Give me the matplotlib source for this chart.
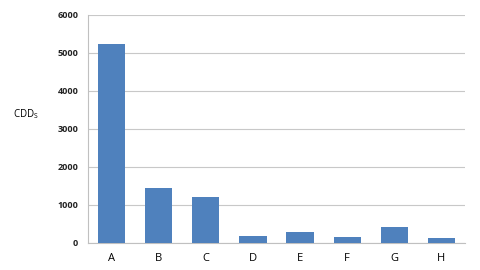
import matplotlib
matplotlib.use("Agg")
import matplotlib.pyplot as plt

categories = ["A", "B", "C", "D", "E", "F", "G", "H"]
cdd_values = [5230, 1450, 1200, 190, 280, 170, 420, 130]
y_ticks = [0, 1000, 2000, 3000, 4000, 5000, 6000]

plt.rcParams['font.family'] = ['Open Sans', 'DejaVu Sans']

fig = plt.figure(figsize=(4.8, 2.7), dpi=100)
ax = fig.add_axes([88 / 480, 27 / 270, 377 / 480, 228 / 270])

ax.bar(categories, cdd_values, width=0.58, color="#4f81bd", zorder=3)
ax.set_xlim(-0.5, len(categories) - 0.5)
ax.set_ylim(0, 6000)
ax.set_yticks(y_ticks)
ax.set_yticklabels([str(t) for t in y_ticks], fontsize=6.5, fontweight="bold", color="#222222")
ax.tick_params(axis="y", length=0, pad=7)
ax.tick_params(axis="x", length=0, pad=7, labelsize=8)
ax.grid(axis="y", color="#c8c8c8", linewidth=0.8, zorder=0)

for side in ["top", "right"]:
    ax.spines[side].set_visible(False)
ax.spines["left"].set_color("#c0c0c0")
ax.spines["bottom"].set_color("#c0c0c0")

fig.text(13 / 480, 1 - 114 / 270, r"CDD$_\mathregular{S}$", fontsize=7, va="center", ha="left")

fig.savefig("out.png", dpi=100)
